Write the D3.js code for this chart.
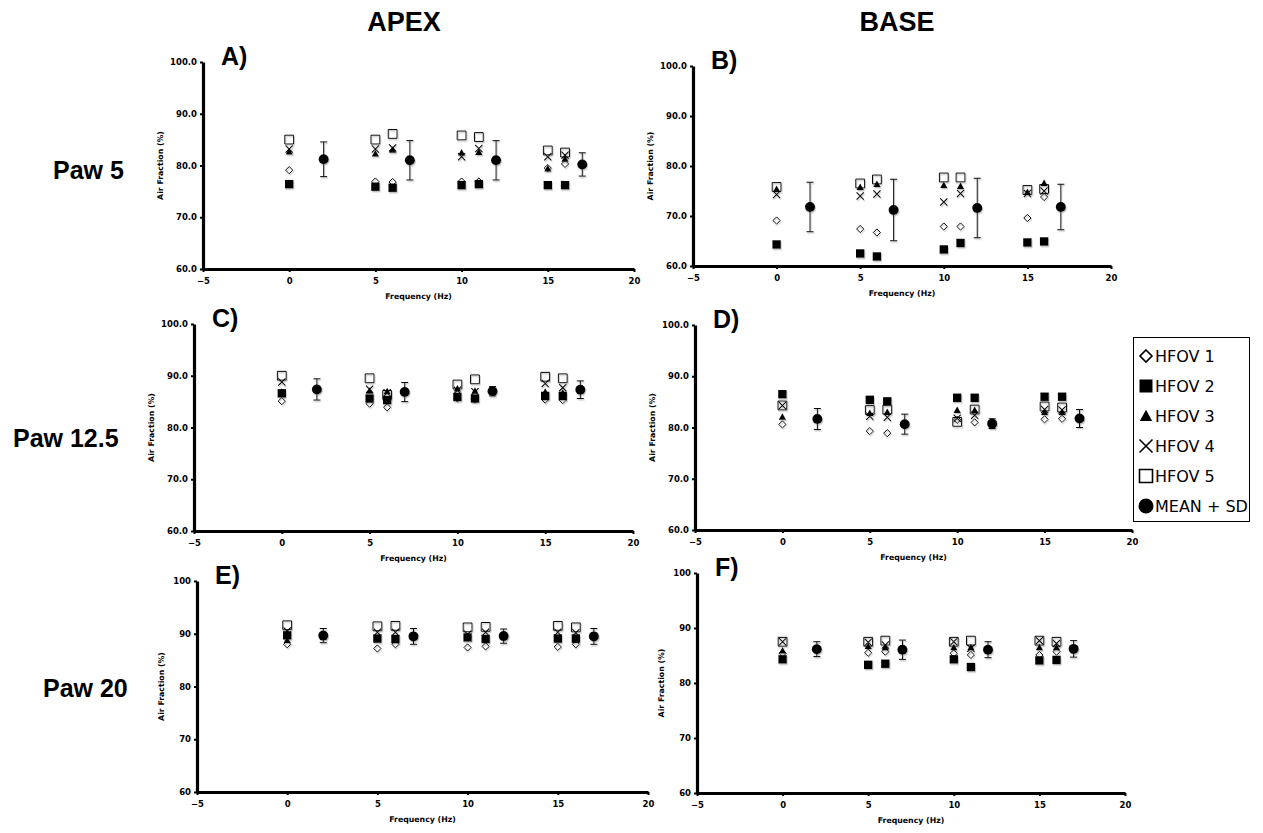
<!DOCTYPE html>
<html>
<head>
<meta charset="utf-8">
<script src="https://cdn.jsdelivr.net/npm/d3@7"></script>
<style>
  body { margin: 0; background: #fff; }
  svg { display: block; }
  .tick text { font-family: "DejaVu Sans", Verdana, sans-serif; font-weight: bold; font-size: 8.5px; }
  .axlabel { font-family: "DejaVu Sans", Verdana, sans-serif; font-weight: bold; font-size: 7.8px; }
  .big { font-family: "Liberation Sans", Arial, sans-serif; font-weight: bold; }
  .legend text { font-family: "DejaVu Sans", Verdana, sans-serif; font-size: 16px; }
</style>
</head>
<body>
<div id="chart"></div>
<script>
// frequencies of the individual runs and of the mean points (Hz)
const freqs = [0, 5, 6, 10, 11, 15, 16];
const meanFreqs = [2, 7, 12, 17];
const seriesNames = ["HFOV 1", "HFOV 2", "HFOV 3", "HFOV 4", "HFOV 5", "MEAN + SD"];
const xTicks = [-5, 0, 5, 10, 15, 20];
const yTicks = [60, 70, 80, 90, 100];
const columnTitles = ["APEX", "BASE"];
const rowTitles = ["Paw 5", "Paw 12.5", "Paw 20"];

// A) apex, Paw 5  (rows: HFOV 1..5)
const hfovA = [
  [79.1, 76.9, 76.8, 76.9, 76.9, 79.5, 80.3],
  [76.4, 75.9, 75.7, 76.2, 76.4, 76.2, 76.2],
  [82.7, 82.3, 83.0, 82.5, 82.6, 79.4, 81.3],
  [83.2, 83.2, 83.4, 81.7, 83.3, 81.7, 82.0],
  [85.0, 85.0, 86.1, 85.8, 85.5, 82.9, 82.5]
];
const meanA = [81.2, 81.0, 81.0, 80.2];
const sdA = [3.35, 3.8, 3.8, 2.25];

// B) base, Paw 5
const hfovB = [
  [69.1, 67.4, 66.7, 67.9, 67.9, 69.6, 73.8],
  [64.3, 62.5, 61.9, 63.3, 64.6, 64.7, 64.9],
  [75.4, 75.8, 76.4, 76.2, 76.0, 74.8, 76.6],
  [74.3, 74.0, 74.4, 72.8, 74.5, 74.5, 75.0],
  [75.8, 76.5, 77.3, 77.7, 77.7, 75.2, 75.4]
];
const meanB = [71.8, 71.2, 71.6, 71.8];
const sdB = [4.95, 6.15, 5.95, 4.55];

// C) apex, Paw 12.5
const hfovC = [
  [85.1, 84.6, 83.9, 85.6, 85.4, 85.4, 85.3],
  [86.6, 85.6, 85.3, 85.9, 85.6, 86.1, 86.1],
  [86.9, 87.1, 87.0, 87.5, 87.1, 86.9, 86.7],
  [88.8, 87.4, 86.7, 87.2, 86.9, 88.5, 87.7],
  [90.0, 89.5, 86.3, 88.3, 89.3, 89.8, 89.5]
];
const meanC = [87.35, 86.85, 87.0, 87.3];
const sdC = [2.05, 1.85, 0.9, 1.7];

// D) base, Paw 12.5
const hfovD = [
  [80.6, 79.3, 78.9, 81.5, 81.0, 81.6, 81.7],
  [86.5, 85.4, 85.1, 85.8, 85.8, 86.0, 86.0],
  [82.1, 82.8, 83.0, 83.4, 83.4, 83.0, 83.0],
  [84.3, 82.2, 82.0, 81.8, 82.4, 83.5, 83.4],
  [84.3, 83.4, 83.5, 81.1, 83.5, 84.1, 83.9]
];
const meanD = [81.65, 80.65, 80.75, 81.75];
const sdD = [2.05, 1.95, 0.95, 1.75];

// E) apex, Paw 20
const hfovE = [
  [88.0, 87.2, 88.0, 87.4, 87.6, 87.5, 88.0],
  [89.7, 89.1, 89.0, 89.3, 89.0, 89.1, 89.1],
  [88.8, 88.9, 88.8, 89.5, 88.8, 88.9, 88.8],
  [90.5, 90.3, 90.3, 89.9, 90.3, 90.3, 90.2],
  [91.6, 91.4, 91.5, 91.2, 91.3, 91.5, 91.2]
];
const meanE = [89.65, 89.5, 89.55, 89.5];
const sdE = [1.35, 1.5, 1.35, 1.5];

// F) base, Paw 20
const hfovF = [
  [85.4, 85.5, 85.7, 85.4, 85.1, 85.1, 85.7],
  [84.3, 83.3, 83.5, 84.3, 82.9, 84.1, 84.2],
  [85.9, 86.7, 86.5, 86.5, 86.5, 86.5, 86.5],
  [87.5, 87.4, 86.9, 87.5, 86.3, 87.7, 87.2],
  [87.5, 87.5, 87.7, 87.5, 87.7, 87.7, 87.5]
];
const meanF = [86.15, 86.05, 86.05, 86.2];
const sdF = [1.35, 1.75, 1.45, 1.5];

// panel layout (pixels)
const panels = [
  { id: "A", hfov: hfovA, mean: meanA, sd: sdA, x0: 203, x1: 634, y0: 62, y1: 269, fmt: ".1f", lab: 40 },
  { id: "B", hfov: hfovB, mean: meanB, sd: sdB, x0: 693, x1: 1111, y0: 66, y1: 266, fmt: ".1f", lab: 40 },
  { id: "C", hfov: hfovC, mean: meanC, sd: sdC, x0: 194, x1: 633, y0: 324, y1: 531, fmt: ".1f", lab: 40 },
  { id: "D", hfov: hfovD, mean: meanD, sd: sdD, x0: 695, x1: 1132, y0: 325, y1: 530, fmt: ".1f", lab: 40 },
  { id: "E", hfov: hfovE, mean: meanE, sd: sdE, x0: 197, x1: 648, y0: 581, y1: 792, fmt: "d", lab: 33 },
  { id: "F", hfov: hfovF, mean: meanF, sd: sdF, x0: 697, x1: 1125, y0: 573, y1: 793, fmt: "d", lab: 33 }
];

const W = 1263, H = 833;
const svg = d3.select("#chart").append("svg")
    .attr("width", W).attr("height", H);

// soft grey shadow like the original spreadsheet markers
const defs = svg.append("defs");
defs.append("filter").attr("id", "shadow")
    .attr("x", "-50%").attr("y", "-50%").attr("width", "200%").attr("height", "200%")
  .append("feDropShadow")
    .attr("dx", 0.8).attr("dy", 1.4).attr("stdDeviation", 0.6)
    .attr("flood-color", "#888").attr("flood-opacity", 0.55);

// marker shapes, centred on 0,0
function markerPath(i, s) {
  if (i === 0) return `M0,${-s}L${s},0L0,${s}L${-s},0Z`;                 // diamond
  if (i === 1 || i === 4) return `M${-s},${-s}H${s}V${s}H${-s}Z`;         // squares
  if (i === 2) { const h = s * 0.95; return `M0,${-h}L${h},${h * 0.8}L${-h},${h * 0.8}Z`; } // triangle
  if (i === 3) return `M${-s},${-s}L${s},${s}M${s},${-s}L${-s},${s}`;    // cross
  return "";
}
function markerStyle(sel, i) {
  if (i === 1 || i === 2) sel.attr("fill", "#000").attr("stroke", "none");
  else if (i === 3) sel.attr("fill", "none").attr("stroke", "#000").attr("stroke-width", 1.1);
  else sel.attr("fill", "none").attr("stroke", "#000").attr("stroke-width", 1);
}
const markerSize = [3.6, 4.2, 3.8, 3.6, 4.4];

panels.forEach(p => {
  const x = d3.scaleLinear().domain([-5, 20]).range([p.x0, p.x1]);
  const y = d3.scaleLinear().domain([60, 100]).range([p.y1, p.y0]);
  const g = svg.append("g");

  // axes
  const ya = g.append("g").attr("transform", `translate(${p.x0},0)`)
      .call(d3.axisLeft(y).tickValues(yTicks).tickFormat(d3.format(p.fmt))
        .tickSize(3).tickSizeOuter(0).tickPadding(3));
  const xa = g.append("g").attr("transform", `translate(0,${p.y1})`)
      .call(d3.axisBottom(x).tickValues(xTicks).tickFormat(d3.format("d"))
        .tickSize(3).tickSizeOuter(0).tickPadding(6));
  [ya, xa].forEach(a => {
    a.select(".domain").attr("stroke-width", 3.2);
    a.selectAll(".tick line").attr("stroke-width", 2);
  });

  g.append("text").attr("class", "axlabel")
      .attr("transform", `translate(${p.x0 - p.lab},${(p.y0 + p.y1) / 2}) rotate(-90)`)
      .attr("text-anchor", "middle").text("Air Fraction (%)");
  g.append("text").attr("class", "axlabel")
      .attr("x", (p.x0 + p.x1) / 2).attr("y", p.y1 + 30)
      .attr("text-anchor", "middle").text("Frequency (Hz)");

  g.append("text").attr("class", "big").attr("font-size", 25)
      .attr("x", p.x0 + 18).attr("y", p.y0 + 3).text(p.id + ")");

  // individual runs
  const marks = g.append("g").attr("filter", "url(#shadow)");
  p.hfov.forEach((vals, i) => {
    marks.selectAll(null).data(vals).join("path")
        .attr("transform", (d, j) => `translate(${x(freqs[j])},${y(d)})`)
        .attr("d", markerPath(i, markerSize[i]))
        .call(markerStyle, i);
  });

  // mean + SD
  const m = g.append("g");
  p.mean.forEach((v, j) => {
    const cx = x(meanFreqs[j]);
    const top = y(v + p.sd[j]), bot = y(v - p.sd[j]);
    m.append("path")
        .attr("d", `M${cx},${top}V${bot}M${cx - 3.5},${top}H${cx + 3.5}M${cx - 3.5},${bot}H${cx + 3.5}`)
        .attr("stroke", "#000").attr("stroke-width", 1).attr("fill", "none");
  });
  m.attr("filter", "url(#shadow)").selectAll("circle").data(p.mean).join("circle")
      .attr("cx", (d, j) => x(meanFreqs[j])).attr("cy", d => y(d))
      .attr("r", 5).attr("fill", "#000");
});

// column and row titles
svg.selectAll(".coltitle").data(columnTitles).join("text")
    .attr("class", "big").attr("font-size", 27).attr("text-anchor", "middle")
    .attr("x", (d, i) => [404, 897][i]).attr("y", 31).text(d => d);
svg.selectAll(".rowtitle").data(rowTitles).join("text")
    .attr("class", "big").attr("font-size", 25)
    .attr("x", (d, i) => [53, 13, 43][i]).attr("y", (d, i) => [179, 447, 697][i]).text(d => d);

// legend
const lg = svg.append("g").attr("class", "legend");
lg.append("rect").attr("x", 1133.5).attr("y", 337.5).attr("width", 116).attr("height", 184)
    .attr("fill", "#fff").attr("stroke", "#000").attr("stroke-width", 1);
seriesNames.forEach((name, i) => {
  const cy = 356 + i * 30;
  if (i < 5) {
    lg.append("path").attr("transform", `translate(1146,${cy})`)
        .attr("d", markerPath(i, i === 0 ? 6 : 6.5))
        .call(markerStyle, i)
        .attr("stroke-width", i === 1 || i === 2 ? null : 1.6);
  } else {
    lg.append("circle").attr("cx", 1146).attr("cy", cy).attr("r", 7.5).attr("fill", "#000");
  }
  lg.append("text").attr("x", 1155).attr("y", cy + 6).text(name);
});
</script>
</body>
</html>
